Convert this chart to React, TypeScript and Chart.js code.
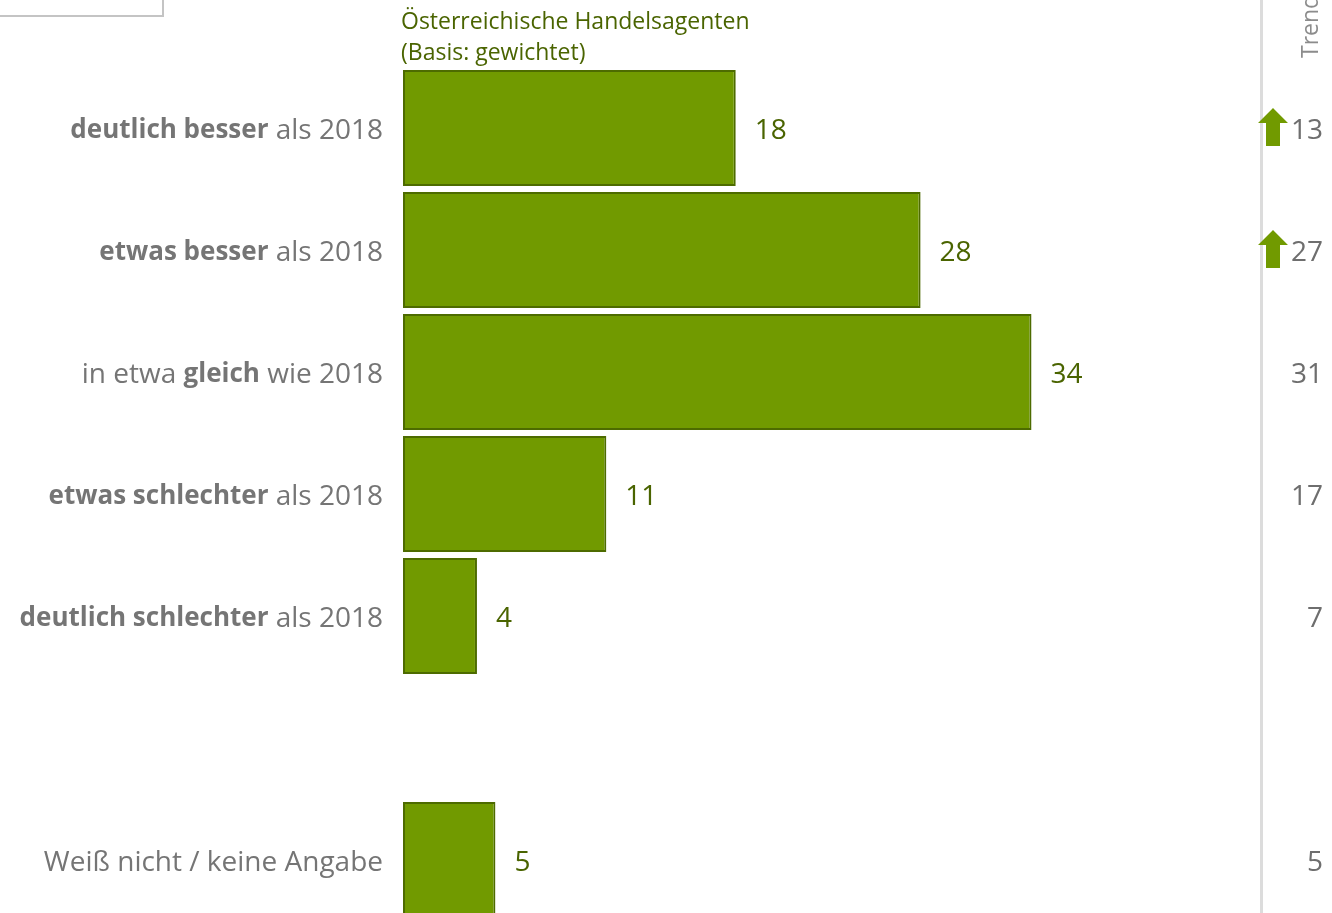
import React, { useEffect, useRef } from "react";
import { Chart, registerables } from "chart.js";
Chart.register(...registerables);

const categories = [
  "deutlich besser als 2018",
  "etwas besser als 2018",
  "in etwa gleich wie 2018",
  "etwas schlechter als 2018",
  "deutlich schlechter als 2018",
  "",
  "Weiß nicht / keine Angabe",
];
// [text, bold]
const labelParts: [string, boolean][][] = [
  [["deutlich besser", true], [" als 2018", false]],
  [["etwas besser", true], [" als 2018", false]],
  [["in etwa ", false], ["gleich", true], [" wie 2018", false]],
  [["etwas schlechter", true], [" als 2018", false]],
  [["deutlich schlechter", true], [" als 2018", false]],
  [],
  [["Weiß nicht / keine Angabe", false]],
];
const values: (number | null)[] = [18, 28, 34, 11, 4, null, 5];
const trendValues: (number | null)[] = [13, 27, 31, 17, 7, null, 5];
const trendUp = [true, true, false, false, false, false, false];
const seriesTitle = ["Österreichische Handelsagenten", "(Basis: gewichtet)"];
const trendTitle = "Trend";

const FONT = "'Open Sans', 'Noto Sans', sans-serif";
const GREEN = "#719a00";
const GREEN_BORDER = "#4d6b00";
const DARK_GREEN = "#4a6400";
const GRAY = "#757575";

const decor = {
  id: "decor",
  afterDraw(chart: any) {
    const ctx = chart.ctx;
    const y = chart.scales.y;
    const x = chart.scales.x;
    ctx.save();
    // top-left box
    ctx.strokeStyle = "#c4c4c4";
    ctx.lineWidth = 2;
    ctx.beginPath();
    ctx.moveTo(-2, 16);
    ctx.lineTo(163, 16);
    ctx.lineTo(163, -2);
    ctx.stroke();
    // separator line
    ctx.strokeStyle = "#dcdcdc";
    ctx.lineWidth = 3;
    ctx.beginPath();
    ctx.moveTo(1261.5, 0);
    ctx.lineTo(1261.5, chart.height);
    ctx.stroke();
    // series title
    ctx.fillStyle = DARK_GREEN;
    ctx.font = `23px ${FONT}`;
    ctx.textAlign = "left";
    ctx.textBaseline = "middle";
    ctx.fillText(seriesTitle[0], 401, 22);
    ctx.fillText(seriesTitle[1], 401, 53);
    // trend title rotated
    ctx.save();
    ctx.translate(1311, 58);
    ctx.rotate(-Math.PI / 2);
    ctx.fillStyle = "#8c8c8c";
    ctx.font = `23px ${FONT}`;
    ctx.textAlign = "left";
    ctx.textBaseline = "middle";
    ctx.fillText(trendTitle, 0, 0);
    ctx.restore();

    const fontFor = (b: boolean) => (b ? `bold 26px ${FONT}` : `28px ${FONT}`);

    categories.forEach((_, i) => {
      const cy = y.getPixelForValue(i) + 3;
      // category labels
      const parts = labelParts[i];
      if (parts.length) {
        let total = 0;
        const widths = parts.map(([t, b]) => {
          ctx.font = fontFor(b);
          const w = ctx.measureText(t).width;
          total += w;
          return w;
        });
        let px = 383 - total;
        ctx.textAlign = "left";
        ctx.textBaseline = "middle";
        parts.forEach(([t, b], k) => {
          ctx.font = fontFor(b);
          ctx.fillStyle = GRAY;
          ctx.fillText(t, px, cy);
          px += widths[k];
        });
      }
      // value labels
      const v = values[i];
      if (v != null) {
        ctx.font = `28px ${FONT}`;
        ctx.fillStyle = DARK_GREEN;
        ctx.textAlign = "left";
        ctx.fillText(String(v), x.getPixelForValue(v) + 19, cy);
      }
      // trend values
      const t = trendValues[i];
      if (t != null) {
        ctx.font = `28px ${FONT}`;
        ctx.fillStyle = "#6e6e6e";
        ctx.textAlign = "right";
        ctx.fillText(String(t), 1323, cy);
      }
      if (trendUp[i]) {
        const ax = 1273;
        const c0 = cy - 3;
        ctx.fillStyle = GREEN;
        ctx.beginPath();
        ctx.moveTo(ax, c0 - 20);
        ctx.lineTo(ax + 15, c0 - 5);
        ctx.lineTo(ax + 7, c0 - 5);
        ctx.lineTo(ax + 7, c0 + 18);
        ctx.lineTo(ax - 7, c0 + 18);
        ctx.lineTo(ax - 7, c0 - 5);
        ctx.lineTo(ax - 15, c0 - 5);
        ctx.closePath();
        ctx.fill();
      }
    });
    ctx.restore();
  },
};

export default function App() {
  const ref = useRef<HTMLCanvasElement>(null);
  useEffect(() => {
    if (!ref.current) return;
    const chart = new Chart(ref.current, {
      type: "bar",
      data: {
        labels: categories,
        datasets: [
          {
            data: values as any,
            backgroundColor: GREEN,
            borderColor: GREEN_BORDER,
            borderWidth: 2,
            borderSkipped: false,
            categoryPercentage: 1,
            barPercentage: 0.95,
          },
        ],
      },
      options: {
        indexAxis: "y",
        animation: false,
        responsive: false,
        maintainAspectRatio: false,
        layout: { padding: { top: 67, bottom: 9, left: 403, right: 99 } },
        plugins: { legend: { display: false }, tooltip: { enabled: false } },
        scales: {
          x: { display: false, min: 0, max: 44.9 },
          y: { display: false },
        },
      },
      plugins: [decor],
    });
    return () => chart.destroy();
  }, []);
  return (
    <div style={{ position: "fixed", left: 0, top: 0, width: 1332, height: 913, overflow: "hidden", background: "#fff" }}>
      <canvas ref={ref} width={1332} height={930} style={{ display: "block", width: 1332, height: 930 }} />
    </div>
  );
}
